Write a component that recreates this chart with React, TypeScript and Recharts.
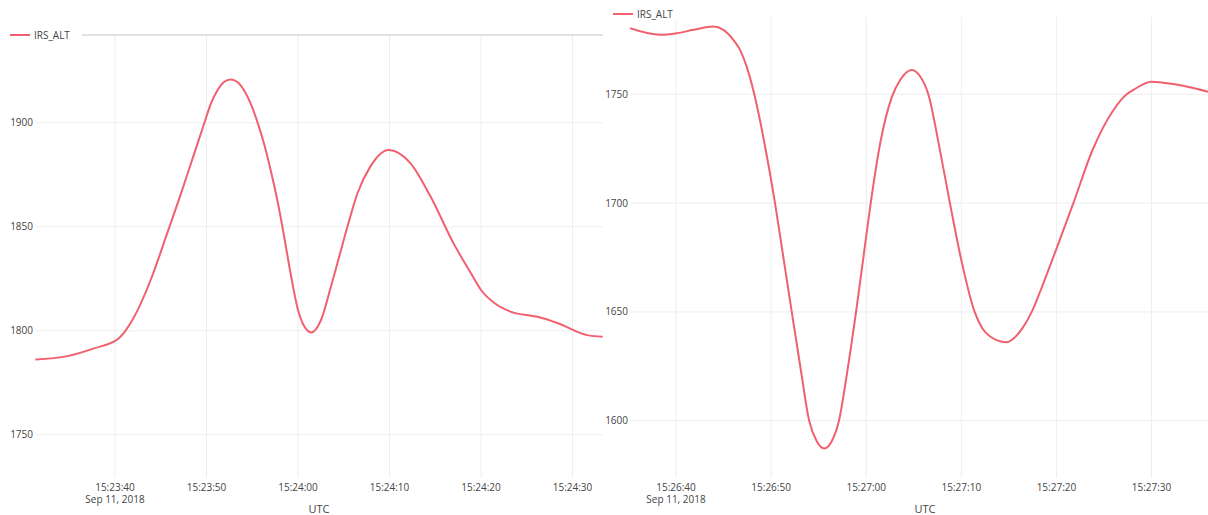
import React from 'react';
import { LineChart, Line, XAxis, YAxis, CartesianGrid, Legend } from 'recharts';

// IRS_ALT altitude traces, Sep 11, 2018 (UTC)
const SERIES_NAME = 'IRS_ALT';
const DATE_LABEL = 'Sep 11, 2018';
const AXIS_TITLE = 'UTC';

// First window: seconds after 15:23:00
const leftSeconds = [31.3, 34.8, 37.7, 40.4, 42.1, 43.9, 45.7, 47.1, 48.29, 49.02, 49.74, 50.47, 51.2, 51.92, 52.65, 53.38, 54.1, 54.84, 55.57, 56.29, 57.02, 57.75, 58.47, 59.2, 59.93, 60.65, 61.46, 62.48, 63.57, 64.3, 65.4, 66.5, 67.9, 69.9, 72.3, 74.5, 77.0, 78.9, 80.0, 81.5, 83.3, 86.2, 88.4, 91.6, 93.3];
const leftAlt = [1786.2, 1787.8, 1791.5, 1796.3, 1806.7, 1824.4, 1846.8, 1864.5, 1880.3, 1890.0, 1899.5, 1909.1, 1915.6, 1919.6, 1920.8, 1919.6, 1915.6, 1909.1, 1900.3, 1889.9, 1877.1, 1862.6, 1845.7, 1827.3, 1811.2, 1802.4, 1799.2, 1804.8, 1820.8, 1832.4, 1850.0, 1866.1, 1878.9, 1886.9, 1880.5, 1864.4, 1842.0, 1827.6, 1819.6, 1813.2, 1809.1, 1806.7, 1803.6, 1797.9, 1797.1];
const leftTickSeconds = [40, 50, 60, 70, 80, 90];
const leftYTicks = [1750, 1800, 1850, 1900];

// Second window: seconds after 15:26:00
const rightSeconds = [35.16, 38.32, 40.07, 41.82, 43.92, 44.97, 46.03, 46.73, 47.43, 48.23, 49.3, 50.41, 51.3, 52.17, 53.1, 54.0, 54.8, 55.6, 56.4, 57.13, 58.0, 58.93, 59.7, 60.47, 61.5, 62.68, 63.6, 64.78, 65.66, 66.53, 67.7, 68.8, 70.0, 71.4, 72.2, 73.0, 74.7, 76.5, 77.4, 78.3, 80.0, 81.78, 83.8, 86.0, 87.39, 88.1, 90.0, 92.3, 94.4, 97.2];
const rightAlt = [1780.3, 1777.3, 1778.0, 1779.6, 1781.1, 1779.6, 1775.0, 1770.4, 1762.7, 1750.0, 1727.5, 1700.0, 1674.7, 1650.0, 1624.0, 1600.0, 1590.6, 1587.3, 1590.8, 1600.0, 1622.4, 1650.0, 1675.0, 1700.0, 1728.2, 1748.6, 1756.8, 1761.2, 1758.3, 1750.0, 1725.5, 1700.0, 1673.8, 1650.0, 1642.5, 1638.8, 1636.1, 1643.0, 1650.0, 1659.5, 1679.0, 1700.0, 1724.4, 1742.8, 1750.0, 1752.0, 1755.8, 1754.7, 1752.9, 1749.5];
const rightTickSeconds = [40, 50, 60, 70, 80, 90];
const rightYTicks = [1600, 1650, 1700, 1750];

const LEFT_BASE = Date.UTC(2018, 8, 11, 15, 23, 0);
const RIGHT_BASE = Date.UTC(2018, 8, 11, 15, 26, 0);

const LINE_COLOR = '#f0606e';
const GRID_COLOR = '#eeeeee';
const TEXT_COLOR = '#444444';
const FONT = '"Open Sans", "Liberation Sans", sans-serif';

const toRows = (base: number, secs: number[], vals: number[]) =>
  secs.map((s, i) => ({ t: base + s * 1000, alt: vals[i] }));

const leftData = toRows(LEFT_BASE, leftSeconds, leftAlt);
const rightData = toRows(RIGHT_BASE, rightSeconds, rightAlt);

const fmtTime = (ms: number) => new Date(ms).toISOString().slice(11, 19);

const TimeTick = (props: any) => {
  const { x, y, payload, index } = props;
  return (
    <g>
      <text x={x} y={y + 12.5} textAnchor="middle" fill={TEXT_COLOR} fontSize={10}>
        {fmtTime(payload.value)}
      </text>
      {index === 0 && (
        <text x={x} y={y + 25} textAnchor="middle" fill={TEXT_COLOR} fontSize={10}>
          {DATE_LABEL}
        </text>
      )}
    </g>
  );
};

const AxisTitle = (props: any) => {
  const vb = props.viewBox || {};
  return (
    <text x={vb.x + vb.width / 2} y={vb.y + 34.5} textAnchor="middle" fill={TEXT_COLOR} fontSize={11}>
      {AXIS_TITLE}
    </text>
  );
};

const LegendBox = () => (
  <div style={{ display: 'flex', alignItems: 'center', height: 12, fontSize: 10, color: TEXT_COLOR, fontFamily: FONT }}>
    <svg width={24} height={12} style={{ display: 'block' }}>
      <line x1={2} x2={22} y1={6} y2={6} stroke={LINE_COLOR} strokeWidth={2} />
    </svg>
    <span style={{ marginLeft: 2, lineHeight: '12px' }}>{SERIES_NAME}</span>
  </div>
);

type PanelProps = {
  data: { t: number; alt: number }[];
  base: number;
  tickSeconds: number[];
  yTicks: number[];
  xDomain: [number, number];
  yDomain: [number, number];
  width: number;
  margin: { top: number; right: number; bottom: number; left: number };
  yAxisWidth: number;
  legendPos: { left: number; top: number; width: number };
  topBorder: boolean;
};

const Panel = ({ data, base, tickSeconds, yTicks, xDomain, yDomain, width, margin, yAxisWidth, legendPos, topBorder }: PanelProps) => (
  <LineChart width={width} height={515} data={data} margin={margin}>
    <CartesianGrid stroke={GRID_COLOR} strokeWidth={1} syncWithTicks />
    <XAxis
      dataKey="t"
      type="number"
      domain={[base + xDomain[0] * 1000, base + xDomain[1] * 1000]}
      ticks={tickSeconds.map((s) => base + s * 1000)}
      interval={0}
      allowDataOverflow
      height={37}
      tickSize={0}
      tickMargin={0}
      axisLine={false}
      tickLine={false}
      tick={<TimeTick />}
      label={<AxisTitle />}
    />
    {topBorder && (
      <XAxis
        xAxisId="top"
        orientation="top"
        dataKey="t"
        type="number"
        domain={[base + xDomain[0] * 1000, base + xDomain[1] * 1000]}
        height={1}
        tick={false}
        tickLine={false}
        axisLine={{ stroke: '#c4c4c4', strokeWidth: 1 }}
      />
    )}
    <YAxis
      type="number"
      domain={yDomain}
      ticks={yTicks}
      interval={0}
      allowDataOverflow
      width={yAxisWidth}
      tickSize={0}
      tickMargin={2}
      axisLine={false}
      tickLine={false}
      tick={{ fill: TEXT_COLOR, fontSize: 10 }}
    />
    <Legend
      layout="horizontal"
      verticalAlign="middle"
      align="center"
      content={<LegendBox />}
      wrapperStyle={{ left: legendPos.left, top: legendPos.top, width: legendPos.width, height: 12, background: '#fff' }}
    />
    <Line
      type="monotone"
      dataKey="alt"
      name={SERIES_NAME}
      stroke={LINE_COLOR}
      strokeWidth={2}
      dot={false}
      activeDot={false}
      isAnimationActive={false}
    />
  </LineChart>
);

export default function App() {
  return (
    <div style={{ position: 'absolute', left: 0, top: 0, width: 1208, height: 515, overflow: 'hidden', background: '#fff', fontFamily: FONT }}>
      <div style={{ position: 'absolute', left: 0, top: 0 }}>
        <Panel
          data={leftData}
          base={LEFT_BASE}
          tickSeconds={leftTickSeconds}
          yTicks={leftYTicks}
          xDomain={[31.26, 93.33]}
          yDomain={[1729.2, 1942.2]}
          width={610}
          margin={{ top: 34, right: 7, bottom: 0, left: 0 }}
          yAxisWidth={35}
          legendPos={{ left: 8, top: 29, width: 74 }}
          topBorder
        />
      </div>
      <div style={{ position: 'absolute', left: 600, top: 0 }}>
        <Panel
          data={rightData}
          base={RIGHT_BASE}
          tickSeconds={rightTickSeconds}
          yTicks={rightYTicks}
          xDomain={[35.16, 97.2]}
          yDomain={[1573.7, 1785.5]}
          width={630}
          margin={{ top: 17, right: 10, bottom: 0, left: 0 }}
          yAxisWidth={30}
          legendPos={{ left: 11, top: 8, width: 70 }}
          topBorder={false}
        />
      </div>
    </div>
  );
}
